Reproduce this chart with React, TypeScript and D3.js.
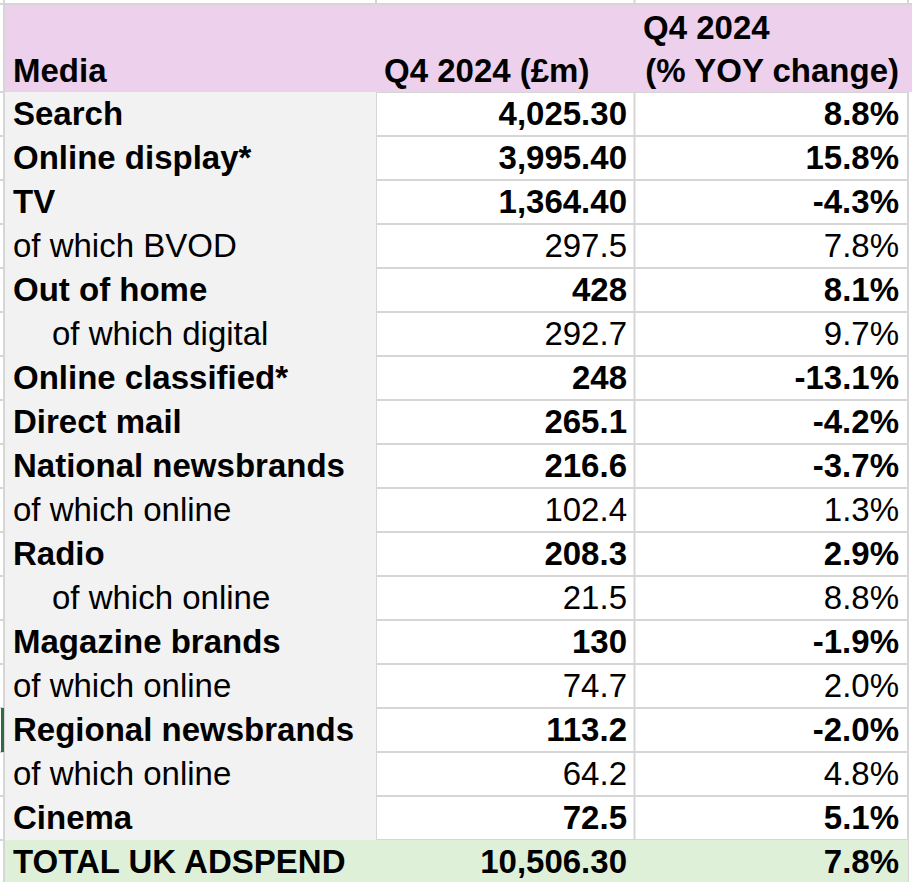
import React from 'react'
import * as d3 from 'd3'

// table data
const MEDIA = [
  'Search', 'Online display*', 'TV', 'of which BVOD', 'Out of home', 'of which digital',
  'Online classified*', 'Direct mail', 'National newsbrands', 'of which online', 'Radio',
  'of which online', 'Magazine brands', 'of which online', 'Regional newsbrands',
  'of which online', 'Cinema', 'TOTAL UK ADSPEND'
]
// 0 = headline (bold), 1 = sub row, 2 = indented sub row
const LEVEL = [0, 0, 0, 1, 0, 2, 0, 0, 0, 1, 0, 2, 0, 1, 0, 1, 0, 0]
const SPEND = [
  4025.3, 3995.4, 1364.4, 297.5, 428, 292.7, 248, 265.1, 216.6, 102.4, 208.3,
  21.5, 130, 74.7, 113.2, 64.2, 72.5, 10506.3
]
const YOY = [8.8, 15.8, -4.3, 7.8, 8.1, 9.7, -13.1, -4.2, -3.7, 1.3, 2.9, 8.8, -1.9, 2.0, -2.0, 4.8, 5.1, 7.8]
const HEADERS = ['Media', 'Q4 2024 (£m)', 'Q4 2024', '(% YOY change)']

const W = 912
const H = 882
const FONT = '"Liberation Sans", Arial, Helvetica, sans-serif'
const GRID = '#d6d6d6'

const locale = d3.formatLocale({ decimal: '.', thousands: ',', grouping: [3], currency: ['£', ''], minus: '-' })
const fmtBig = locale.format(',.2f')
const fmtPct = locale.format('.1f')
const fmtSpend = (v: number) => (v >= 1000 ? fmtBig(v) : String(v))

export default function App() {
  const rows = d3.range(MEDIA.length)
  const y = d3.scaleBand<number>().domain(rows).range([92, 92 + 44 * rows.length])
  const col = { a0: 5, a1: 376, b1: 634.5, c1: 908 }
  const last = rows.length - 1

  return (
    <svg width={W} height={H} style={{ position: 'absolute', left: 0, top: 0, display: 'block' }} fontFamily={FONT}>
      <rect width={W} height={H} fill="#fff" />

      {/* grid */}
      {rows.map((i) => (
        <line key={'h' + i} x1={0} x2={col.c1} y1={y(i)!} y2={y(i)!} stroke={GRID} strokeWidth={2} />
      ))}
      <line x1={0} x2={W} y1={4} y2={4} stroke={GRID} strokeWidth={2} />
      <line x1={4} x2={4} y1={0} y2={H} stroke={GRID} strokeWidth={2} />
      {[col.a1, col.b1, col.c1].map((x) => (
        <line key={'v' + x} x1={x} x2={x} y1={0} y2={H} stroke={GRID} strokeWidth={2} />
      ))}

      {/* fills */}
      <rect x={col.a0} y={5} width={W - col.a0} height={87} fill="#ecd0ec" />
      {rows.slice(0, last).map((i) => (
        <rect key={'g' + i} x={col.a0} y={y(i)!} width={col.a1 - col.a0} height={y.bandwidth()} fill="#f2f2f2" />
      ))}
      <rect x={col.a0} y={y(last)!} width={col.c1 - col.a0} height={y.bandwidth()} fill="#dff0d8" />
      <rect x={1} y={y(14)!} width={3} height={y.bandwidth()} fill="#2f6b45" />

      {/* header */}
      <g fontSize={33} fontWeight="bold" fill="#000">
        <text x={13} y={82}>{HEADERS[0]}</text>
        <text x={384} y={82}>{HEADERS[1]}</text>
        <text x={643} y={39}>{HEADERS[2]}</text>
        <text x={899} y={82} textAnchor="end">{HEADERS[3]}</text>
      </g>

      {/* body */}
      <g fontSize={33} fill="#000">
        {rows.map((i) => {
          const bold = LEVEL[i] === 0 ? 'bold' : 'normal'
          const base = y(i)! + 33
          return (
            <g key={'r' + i} fontWeight={bold}>
              <text x={LEVEL[i] === 2 ? 52 : 13} y={base}>{MEDIA[i]}</text>
              <text x={627} y={base} textAnchor="end">{fmtSpend(SPEND[i])}</text>
              <text x={899} y={base} textAnchor="end">{fmtPct(YOY[i]) + '%'}</text>
            </g>
          )
        })}
      </g>
    </svg>
  )
}
